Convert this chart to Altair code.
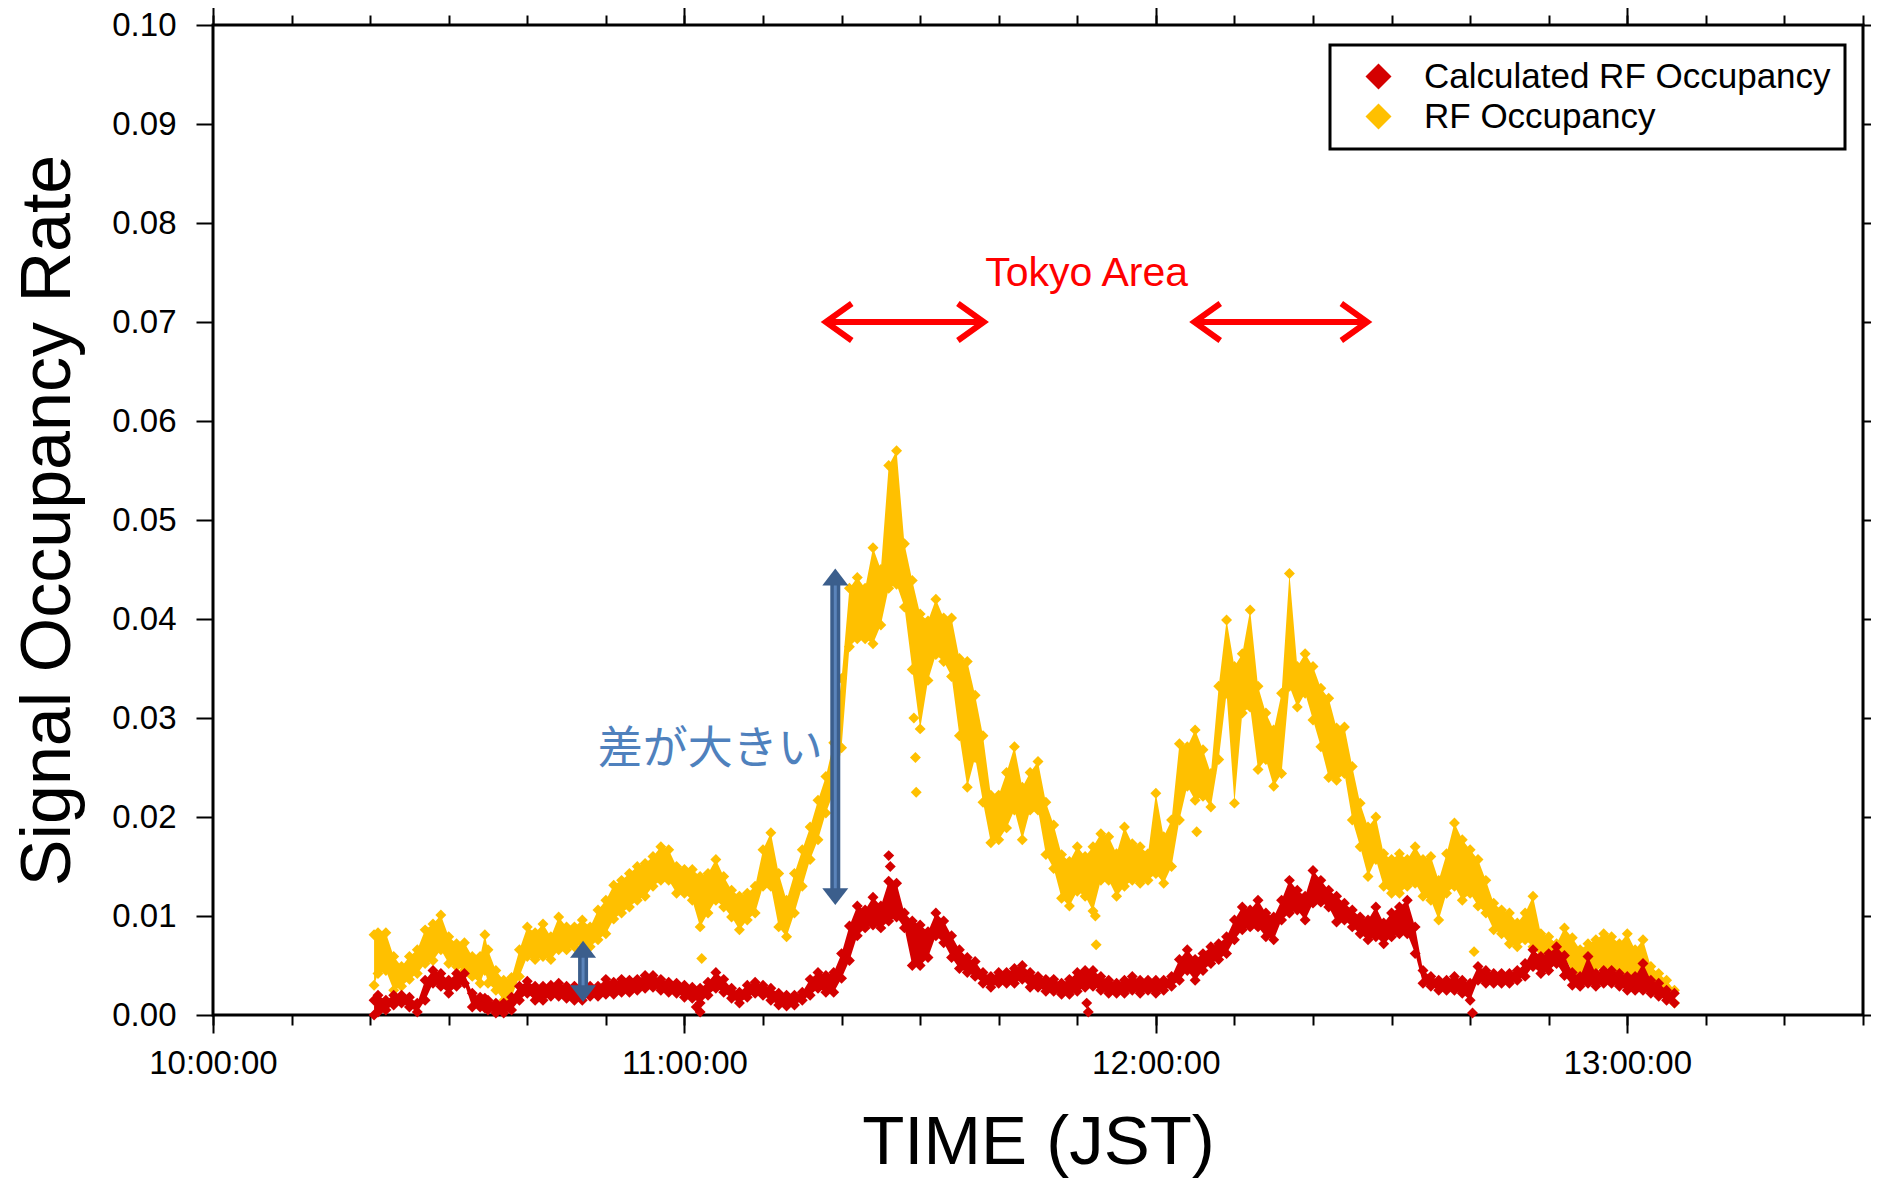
import altair as alt
import pandas as pd

# ---------------- data ----------------
# sample times, minutes after 10:00:00 JST
t_min = [20.5] + list(range(21, 35)) + [34.6] + list(range(35, 187))

# RF Occupancy (yellow): upper / lower edge of the dense point band
rf_hi = [0.0081,
         0.0083, 0.0083, 0.0059, 0.0049, 0.0059, 0.0066, 0.0086, 0.0092, 0.0101, 0.0079, 0.0072, 0.0073, 0.0059, 0.0059,
         0.0081,
         0.0066, 0.0045, 0.0035, 0.0038, 0.0066, 0.0089, 0.0083, 0.0092, 0.0079, 0.0099,
         0.0089, 0.0089, 0.0096, 0.0089, 0.0106, 0.0116, 0.0131, 0.0136, 0.0143, 0.0150,
         0.0153, 0.0160, 0.0170, 0.0167, 0.0150, 0.0147, 0.0147, 0.0140, 0.0143, 0.0157,
         0.0140, 0.0126, 0.0120, 0.0123, 0.0130, 0.0167, 0.0184, 0.0143, 0.0116, 0.0143,
         0.0167, 0.0190, 0.0217, 0.0241, 0.0275, 0.0340, 0.0431, 0.0442, 0.0431, 0.0472,
         0.0450, 0.0555, 0.0570, 0.0476, 0.0439, 0.0405, 0.0398, 0.0420, 0.0401, 0.0401,
         0.0360, 0.0357, 0.0323, 0.0282, 0.0222, 0.0222, 0.0245, 0.0271, 0.0230, 0.0245,
         0.0256, 0.0215, 0.0192, 0.0162, 0.0155, 0.0170, 0.0160, 0.0170, 0.0183, 0.0180,
         0.0163, 0.0190, 0.0173, 0.0170, 0.0163, 0.0224, 0.0180, 0.0197, 0.0274, 0.0271,
         0.0288, 0.0268, 0.0244, 0.0332, 0.0399, 0.0352, 0.0365, 0.0409, 0.0332, 0.0305,
         0.0288, 0.0325, 0.0446, 0.0352, 0.0365, 0.0352, 0.0330, 0.0320, 0.0290, 0.0291,
         0.0251, 0.0214, 0.0190, 0.0200, 0.0163, 0.0157, 0.0163, 0.0157, 0.0170, 0.0157,
         0.0160, 0.0136, 0.0163, 0.0194, 0.0177, 0.0167, 0.0157, 0.0136, 0.0113, 0.0106,
         0.0103, 0.0093, 0.0103, 0.0120, 0.0082, 0.0079, 0.0072, 0.0088, 0.0078, 0.0066,
         0.0072, 0.0076, 0.0082, 0.0079, 0.0072, 0.0082, 0.0066, 0.0076, 0.0049, 0.0042,
         0.0035, 0.0025]
rf_lo = [0.0030,
         0.0042, 0.0045, 0.0025, 0.0029, 0.0036, 0.0042, 0.0052, 0.0055, 0.0066, 0.0052, 0.0049, 0.0045, 0.0039, 0.0032,
         0.0045,
         0.0032, 0.0025, 0.0015, 0.0018, 0.0039, 0.0059, 0.0056, 0.0059, 0.0056, 0.0066,
         0.0066, 0.0069, 0.0072, 0.0069, 0.0076, 0.0082, 0.0097, 0.0103, 0.0109, 0.0116,
         0.0120, 0.0130, 0.0136, 0.0136, 0.0123, 0.0123, 0.0116, 0.0089, 0.0103, 0.0116,
         0.0109, 0.0099, 0.0086, 0.0096, 0.0103, 0.0130, 0.0130, 0.0089, 0.0079, 0.0103,
         0.0130, 0.0157, 0.0177, 0.0204, 0.0225, 0.0270, 0.0372, 0.0380, 0.0380, 0.0375,
         0.0394, 0.0431, 0.0435, 0.0412, 0.0349, 0.0289, 0.0338, 0.0364, 0.0357, 0.0342,
         0.0282, 0.0230, 0.0260, 0.0215, 0.0174, 0.0177, 0.0189, 0.0207, 0.0177, 0.0207,
         0.0207, 0.0162, 0.0148, 0.0118, 0.0110, 0.0125, 0.0120, 0.0105, 0.0136, 0.0136,
         0.0120, 0.0130, 0.0136, 0.0133, 0.0136, 0.0143, 0.0133, 0.0150, 0.0197, 0.0231,
         0.0217, 0.0221, 0.0210, 0.0258, 0.0325, 0.0214, 0.0305, 0.0311, 0.0248, 0.0258,
         0.0231, 0.0244, 0.0332, 0.0311, 0.0325, 0.0298, 0.0271, 0.0240, 0.0237, 0.0244,
         0.0197, 0.0170, 0.0140, 0.0157, 0.0130, 0.0123, 0.0123, 0.0130, 0.0133, 0.0120,
         0.0116, 0.0096, 0.0123, 0.0130, 0.0116, 0.0123, 0.0110, 0.0103, 0.0086, 0.0082,
         0.0072, 0.0069, 0.0076, 0.0069, 0.0059, 0.0062, 0.0056, 0.0058, 0.0045, 0.0042,
         0.0045, 0.0049, 0.0045, 0.0049, 0.0039, 0.0042, 0.0032, 0.0035, 0.0029, 0.0025,
         0.0019, 0.0012]

# Calculated RF Occupancy (red): upper / lower edge of the band
calc_hi = [0.0015,
           0.0020, 0.0015, 0.0020, 0.0020, 0.0018, 0.0012, 0.0035, 0.0045, 0.0042, 0.0035, 0.0042, 0.0042, 0.0022, 0.0018,
           0.0017,
           0.0015, 0.0012, 0.0012, 0.0018, 0.0029, 0.0034, 0.0029, 0.0029, 0.0030, 0.0032,
           0.0029, 0.0029, 0.0027, 0.0029, 0.0029, 0.0036, 0.0033, 0.0036, 0.0035, 0.0036,
           0.0040, 0.0040, 0.0036, 0.0033, 0.0032, 0.0030, 0.0028, 0.0027, 0.0033, 0.0043,
           0.0036, 0.0027, 0.0023, 0.0030, 0.0033, 0.0030, 0.0027, 0.0022, 0.0020, 0.0020,
           0.0023, 0.0036, 0.0043, 0.0040, 0.0043, 0.0062, 0.0090, 0.0110, 0.0106, 0.0119,
           0.0110, 0.0135, 0.0133, 0.0103, 0.0095, 0.0091, 0.0084, 0.0103, 0.0095, 0.0080,
           0.0066, 0.0058, 0.0054, 0.0043, 0.0039, 0.0043, 0.0043, 0.0047, 0.0050, 0.0043,
           0.0039, 0.0036, 0.0036, 0.0032, 0.0036, 0.0043, 0.0045, 0.0045, 0.0039, 0.0035,
           0.0032, 0.0035, 0.0039, 0.0035, 0.0035, 0.0035, 0.0035, 0.0039, 0.0056, 0.0066,
           0.0056, 0.0062, 0.0069, 0.0072, 0.0079, 0.0096, 0.0109, 0.0106, 0.0116, 0.0103,
           0.0099, 0.0116, 0.0136, 0.0126, 0.0120, 0.0146, 0.0136, 0.0126, 0.0120, 0.0113,
           0.0106, 0.0099, 0.0096, 0.0109, 0.0093, 0.0103, 0.0109, 0.0116, 0.0089, 0.0045,
           0.0039, 0.0035, 0.0035, 0.0039, 0.0035, 0.0032, 0.0049, 0.0045, 0.0042, 0.0042,
           0.0042, 0.0045, 0.0052, 0.0066, 0.0059, 0.0062, 0.0069, 0.0060, 0.0043, 0.0039,
           0.0059, 0.0042, 0.0045, 0.0045, 0.0042, 0.0039, 0.0039, 0.0052, 0.0035, 0.0032,
           0.0025, 0.0022]
calc_lo = [0.0000,
           0.0003, 0.0005, 0.0010, 0.0012, 0.0008, 0.0003, 0.0015, 0.0032, 0.0029, 0.0022, 0.0029, 0.0032, 0.0008, 0.0008,
           0.0007,
           0.0005, 0.0002, 0.0002, 0.0005, 0.0015, 0.0022, 0.0015, 0.0015, 0.0019, 0.0019,
           0.0017, 0.0015, 0.0015, 0.0019, 0.0019, 0.0021, 0.0021, 0.0023, 0.0023, 0.0025,
           0.0027, 0.0028, 0.0025, 0.0023, 0.0022, 0.0018, 0.0017, 0.0012, 0.0020, 0.0027,
           0.0023, 0.0017, 0.0012, 0.0018, 0.0022, 0.0020, 0.0015, 0.0010, 0.0009, 0.0010,
           0.0015, 0.0020, 0.0027, 0.0023, 0.0023, 0.0037, 0.0055, 0.0080, 0.0088, 0.0091,
           0.0088, 0.0095, 0.0099, 0.0088, 0.0050, 0.0050, 0.0058, 0.0080, 0.0073, 0.0058,
           0.0047, 0.0043, 0.0039, 0.0032, 0.0028, 0.0032, 0.0032, 0.0032, 0.0036, 0.0028,
           0.0028, 0.0024, 0.0024, 0.0021, 0.0021, 0.0024, 0.0028, 0.0029, 0.0025, 0.0022,
           0.0022, 0.0022, 0.0025, 0.0022, 0.0025, 0.0022, 0.0025, 0.0029, 0.0035, 0.0045,
           0.0035, 0.0045, 0.0052, 0.0056, 0.0062, 0.0076, 0.0086, 0.0089, 0.0089, 0.0079,
           0.0076, 0.0096, 0.0103, 0.0106, 0.0096, 0.0113, 0.0114, 0.0109, 0.0094, 0.0096,
           0.0089, 0.0082, 0.0076, 0.0079, 0.0072, 0.0079, 0.0082, 0.0082, 0.0062, 0.0032,
           0.0029, 0.0025, 0.0025, 0.0025, 0.0022, 0.0015, 0.0035, 0.0032, 0.0032, 0.0032,
           0.0032, 0.0035, 0.0039, 0.0049, 0.0042, 0.0045, 0.0052, 0.0040, 0.0030, 0.0029,
           0.0032, 0.0029, 0.0032, 0.0032, 0.0029, 0.0025, 0.0025, 0.0025, 0.0022, 0.0019,
           0.0015, 0.0012]

# isolated points away from the bands
rf_extra_t = [62.2, 89.2, 89.4, 89.5, 112.3, 112.4, 125.2, 160.5]
rf_extra_v = [0.0057, 0.0300, 0.0260, 0.0225, 0.0100, 0.0071, 0.0185, 0.0064]
calc_extra_t = [61.5, 62.0, 86.0, 86.2, 111.2, 111.4, 160.3]
calc_extra_v = [0.0008, 0.0003, 0.0161, 0.0150, 0.0012, 0.0003, 0.0002]

# annotations (data units)
tokyo_text = "Tokyo Area"
tokyo_label_t, tokyo_label_v = 111.2, 0.0748
tokyo_arrow_start = [78.0, 124.9]
tokyo_arrow_end = [98.1, 146.9]
tokyo_arrow_v = [0.070, 0.070]

diff_text = "差が大きい"
diff_label_t, diff_label_v = 63.3, 0.0268
diff_arrow_t = [79.2, 47.1]
diff_arrow_top = [0.0451, 0.0075]
diff_arrow_bottom = [0.0111, 0.0013]

SERIES = ["Calculated RF Occupancy", "RF Occupancy"]
COLORS = ["#d40000", "#ffc000"]

for arr in (rf_hi, rf_lo, calc_hi, calc_lo):
    assert len(arr) == len(t_min), len(arr)

# ---------------- tables ----------------
band = pd.DataFrame({"t": t_min, "rf_hi": rf_hi, "rf_lo": rf_lo,
                     "calc_hi": calc_hi, "calc_lo": calc_lo})
rf_pts = pd.DataFrame({"t": t_min + t_min + rf_extra_t,
                       "v": rf_hi + rf_lo + rf_extra_v})
rf_pts["series"] = SERIES[1]
calc_pts = pd.DataFrame({"t": t_min + t_min + calc_extra_t,
                         "v": calc_hi + calc_lo + calc_extra_v})
calc_pts["series"] = SERIES[0]
tokyo = pd.DataFrame({"t0": tokyo_arrow_start, "t1": tokyo_arrow_end, "v": tokyo_arrow_v})
tokyo_lbl = pd.DataFrame({"t": [tokyo_label_t], "v": [tokyo_label_v], "txt": [tokyo_text]})
diff = pd.DataFrame({"t": diff_arrow_t, "top": diff_arrow_top, "bot": diff_arrow_bottom})
diff_lbl = pd.DataFrame({"t": [diff_label_t], "v": [diff_label_v], "txt": [diff_text]})

# ---------------- scales & axes ----------------
FONT = "Liberation Sans"
xs = alt.Scale(domain=[0, 210], nice=False, zero=False)
ys = alt.Scale(domain=[0, 0.1], nice=False)
cs = alt.Scale(domain=SERIES, range=COLORS)

minor_vals = list(range(0, 211, 10))
major_vals = [0, 60, 120, 180]
y_vals = [round(0.01 * i, 2) for i in range(11)]
common = dict(domain=False, grid=False, tickColor="black", tickWidth=2, labelFlush=False)

ax_bottom_minor = alt.Axis(orient="bottom", values=minor_vals, labels=False, tickSize=10, title=None, **common)
ax_bottom_major = alt.Axis(orient="bottom", values=major_vals, tickSize=18,
                           labelExpr="(10 + datum.value / 60) + ':00:00'",
                           labelFont=FONT, labelFontSize=33, labelColor="black", labelPadding=14,
                           title="TIME (JST)", titleFont=FONT, titleFontSize=69,
                           titleFontWeight="normal", titleColor="black", titlePadding=28, **common)
ax_top_minor = alt.Axis(orient="top", values=minor_vals, labels=False, tickSize=10, title=None, **common)
ax_top_major = alt.Axis(orient="top", values=major_vals, labels=False, tickSize=18, title=None, **common)
ax_left = alt.Axis(orient="left", values=y_vals, format=".2f", tickSize=17,
                   labelFont=FONT, labelFontSize=33, labelColor="black", labelPadding=20,
                   title="Signal Occupancy Rate", titleFont=FONT, titleFontSize=70,
                   titleFontWeight="normal", titleColor="black", titlePadding=27, **common)
ax_right = alt.Axis(orient="right", values=y_vals, labels=False, tickSize=16, title=None, **common)

legend = alt.Legend(title=None, orient="none", legendX=1117, legendY=20, symbolType="diamond",
                    symbolSize=676, labelFont=FONT, labelFontSize=35, labelColor="black",
                    labelLimit=800, padding=14, strokeColor="black", fillColor="white", rowPadding=4,
                    labelOffset=28, symbolOffset=17, symbolStrokeWidth=0)

# ---------------- layers ----------------
rf_area = alt.Chart(band).mark_area(color=COLORS[1], opacity=1).encode(
    x=alt.X("t:Q", scale=xs, axis=ax_bottom_minor),
    y=alt.Y("rf_lo:Q", scale=ys, axis=ax_left),
    y2="rf_hi:Q")
rf_points = alt.Chart(rf_pts).mark_point(shape="diamond", filled=True, size=120, opacity=1).encode(
    x=alt.X("t:Q", scale=xs, axis=ax_bottom_major),
    y=alt.Y("v:Q", scale=ys, axis=ax_right),
    color=alt.Color("series:N", scale=cs, legend=legend))
calc_area = alt.Chart(band).mark_area(color=COLORS[0], opacity=1).encode(
    x=alt.X("t:Q", scale=xs, axis=ax_top_minor),
    y=alt.Y("calc_lo:Q", scale=ys, axis=None),
    y2="calc_hi:Q")
calc_points = alt.Chart(calc_pts).mark_point(shape="diamond", filled=True, size=120, opacity=1).encode(
    x=alt.X("t:Q", scale=xs, axis=ax_top_major),
    y=alt.Y("v:Q", scale=ys, axis=None),
    color=alt.Color("series:N", scale=cs, legend=legend))

RED = "#ff0000"
tokyo_shaft = alt.Chart(tokyo).mark_rule(color=RED, strokeWidth=6).encode(
    x=alt.X("t0:Q", scale=xs, axis=None), x2="t1:Q",
    y=alt.Y("v:Q", scale=ys, axis=None))
tokyo_left = alt.Chart(tokyo).mark_point(shape="M1.4,-1L0,0L1.4,1", size=1369, filled=False,
                                         strokeWidth=6, color=RED, opacity=1, strokeJoin="miter").encode(
    x=alt.X("t0:Q", scale=xs, axis=None), y=alt.Y("v:Q", scale=ys, axis=None))
tokyo_right = alt.Chart(tokyo).mark_point(shape="M-1.4,-1L0,0L-1.4,1", size=1369, filled=False,
                                          strokeWidth=6, color=RED, opacity=1, strokeJoin="miter").encode(
    x=alt.X("t1:Q", scale=xs, axis=None), y=alt.Y("v:Q", scale=ys, axis=None))
tokyo_label = alt.Chart(tokyo_lbl).mark_text(font=FONT, fontSize=41, color=RED,
                                             align="center", baseline="middle").encode(
    x=alt.X("t:Q", scale=xs, axis=None), y=alt.Y("v:Q", scale=ys, axis=None), text="txt:N")

BLUE = "#3b5e8c"
diff_outer = alt.Chart(diff).mark_rule(color=BLUE, strokeWidth=10, yOffset=14, y2Offset=-14).encode(
    x=alt.X("t:Q", scale=xs, axis=None),
    y=alt.Y("top:Q", scale=ys, axis=None), y2="bot:Q")
diff_inner = alt.Chart(diff).mark_rule(color="#5b84ba", strokeWidth=3, yOffset=14, y2Offset=-14).encode(
    x=alt.X("t:Q", scale=xs, axis=None),
    y=alt.Y("top:Q", scale=ys, axis=None), y2="bot:Q")
diff_up = alt.Chart(diff).mark_point(shape="M0,-0.65L1,0.65L-1,0.65Z", size=676, filled=True,
                                     color=BLUE, opacity=1, yOffset=8.5).encode(
    x=alt.X("t:Q", scale=xs, axis=None), y=alt.Y("top:Q", scale=ys, axis=None))
diff_down = alt.Chart(diff).mark_point(shape="M0,0.65L1,-0.65L-1,-0.65Z", size=676, filled=True,
                                       color=BLUE, opacity=1, yOffset=-8.5).encode(
    x=alt.X("t:Q", scale=xs, axis=None), y=alt.Y("bot:Q", scale=ys, axis=None))
diff_label = alt.Chart(diff_lbl).mark_text(font="Noto Sans CJK JP", fontSize=45, color="#4f81bd",
                                           align="center", baseline="middle").encode(
    x=alt.X("t:Q", scale=xs, axis=None), y=alt.Y("v:Q", scale=ys, axis=None), text="txt:N")

chart = alt.layer(
    rf_area, rf_points, calc_area, calc_points,
    tokyo_shaft, tokyo_left, tokyo_right, tokyo_label,
    diff_outer, diff_inner, diff_up, diff_down, diff_label,
).resolve_axis(x="independent", y="independent").properties(
    width=1650, height=990,
    autosize=alt.AutoSizeParams(type="none"),
    padding={"left": 205, "top": 17, "right": 8, "bottom": 165},
    background="white",
).configure_view(stroke="black", strokeWidth=3).configure_legend(strokeWidth=3)

chart.save("out.html", embed_options={"renderer": "svg", "actions": False})
